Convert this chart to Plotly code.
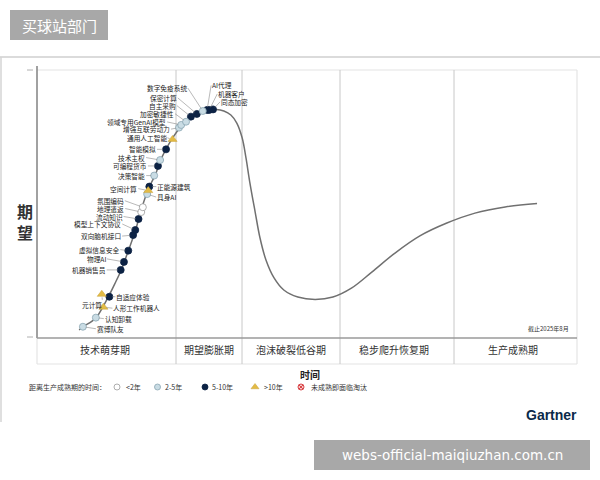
import plotly.graph_objects as go

# ---------------- data ----------------
# hype curve (x: time 0-100, y: expectations 0-100)
curve_x = [7.8, 8.5, 10.9, 12.2, 13.3, 14.4, 15.6, 16.9, 18.2, 19.4, 20.7, 21.9, 22.8, 23.9, 25.0,
           26.3, 27.6, 28.9, 30.2, 31.7, 33.2, 34.6, 35.9, 37.0, 38.0, 38.7, 39.4, 40.4, 41.3, 42.4,
           43.9, 45.7, 48.3, 51.5, 54.8, 58.3, 62.0, 66.3, 70.9, 75.9, 81.1, 86.7, 92.6]
curve_y = [3.0, 4.1, 7.5, 11.6, 15.7, 20.2, 25.4, 32.5, 39.9, 48.5, 56.0, 60.8, 66.0, 70.5, 74.3,
           78.0, 80.6, 82.7, 84.1, 85.1, 85.3, 84.7, 83.2, 80.2, 74.6, 67.2, 58.2, 47.0, 37.3, 29.1,
           22.4, 17.9, 15.3, 14.4, 15.3, 18.7, 24.6, 31.7, 38.1, 42.9, 46.6, 48.9, 50.2]

tech_names = ["赛博队友", "认知卸载", "人形工作机器人", "元计算", "自适应体验", "机器销售员", "物理AI",
              "虚拟信息安全", "双向脑机接口", "模型上下文协议", "流动知识", "地理遣返", "氛围编码",
              "具身AI", "空间计算", "正能源建筑", "决策智能", "可编程货币", "技术主权", "智能模拟",
              "通用人工智能", "增强互联劳动力", "领域专用GenAI模型", "加密敏捷性", "自主采购",
              "保密计算", "数字免疫系统", "AI代理", "机器客户", "同态加密"]
tech_x = [8.5, 10.9, 12.3, 12.0, 13.4, 15.5, 16.1, 16.9, 17.8, 18.2, 18.8, 19.3, 19.6,
          20.4, 20.6, 20.8, 21.7, 22.4, 22.8, 23.9, 25.1, 26.3, 26.7, 27.6, 28.5,
          29.6, 30.7, 31.5, 31.9, 32.6]
tech_y = [4.2, 7.6, 11.5, 16.3, 15.4, 25.4, 28.4, 32.6, 38.4, 40.3, 44.4, 47.0, 48.8,
          53.7, 55.0, 56.5, 60.6, 64.2, 66.4, 70.4, 74.1, 78.5, 79.5, 80.7, 82.6,
          83.6, 84.7, 85.1, 85.1, 85.3]
tech_cat = ["2-5年", "2-5年", ">10年", ">10年", "5-10年", "5-10年", "5-10年",
            "5-10年", "5-10年", "5-10年", "5-10年", "<2年", "<2年",
            "2-5年", ">10年", "5-10年", "2-5年", "5-10年", "2-5年", "5-10年",
            ">10年", "2-5年", "2-5年", "2-5年", "5-10年",
            "5-10年", "2-5年", "5-10年", "5-10年", "5-10年"]

phase_labels = ["技术萌芽期", "期望膨胀期", "泡沫破裂低谷期", "稳步爬升恢复期", "生产成熟期"]
legend_cats = ["<2年", "2-5年", "5-10年", ">10年", "未成熟即面临淘汰"]

# ---------------- styles / layout helpers ----------------
W, H = 600, 480
PX0, PX1, PY0, PY1 = 37, 577, 70, 338   # plot area in pixels
def P(x): return x / W
def Q(y): return 1 - y / H

cat_style = {
    "<2年": dict(symbol="circle", color="#ffffff", line=dict(color="#9a9a9a", width=0.8), size=7),
    "2-5年": dict(symbol="circle", color="#c9dce4", line=dict(color="#8aa6b3", width=0.8), size=7),
    "5-10年": dict(symbol="circle", color="#0c2244", line=dict(color="#0c2244", width=0.8), size=7),
    ">10年": dict(symbol="triangle-up", color="#e3bb45", line=dict(color="#c9a23a", width=0.5), size=8),
    "未成熟即面临淘汰": dict(symbol="circle-x", color="#f6cccc", line=dict(color="#d9464a", width=1), size=7),
}

# label placement: (xanchor, ax px, ay px)
label_place = {
    "赛博队友": ("left", 13, 2), "认知卸载": ("left", 8, 1), "人形工作机器人": ("left", 9, 1),
    "元计算": ("right", 1, 11), "自适应体验": ("left", 6, 0), "机器销售员": ("right", -14, 0),
    "物理AI": ("right", -17, -3), "虚拟信息安全": ("right", -8, -1), "双向脑机接口": ("right", -11, 1),
    "模型上下文协议": ("right", -13, -6), "流动知识": ("right", -15, -2.5), "地理遣返": ("right", -16, -3.5),
    "氛围编码": ("right", -18, -6.5), "具身AI": ("left", 9, 3), "空间计算": ("right", -10, -2),
    "正能源建筑": ("left", 7, 0), "决策智能": ("right", -8, 0), "可编程货币": ("right", -10, 0),
    "技术主权": ("right", -14, -2.5), "智能模拟": ("right", -9, 0), "通用人工智能": ("right", -5, -1.5),
    "增强互联劳动力": ("right", -8, 1.5), "领域专用GenAI模型": ("right", -14, -3),
    "加密敏捷性": ("right", -11, -8), "自主采购": ("right", -14, -11), "保密计算": ("right", -19, -16),
    "数字免疫系统": ("right", -15, -23), "AI代理": ("left", 4, -24.5), "机器客户": ("left", 8, -16),
    "同态加密": ("left", 7, -7.5),
}

CJK = "Noto Sans CJK SC"
LABEL_SIZE = 6.7
fig = go.Figure()

# hype curve
fig.add_trace(go.Scatter(x=curve_x, y=curve_y, mode="lines",
                         line=dict(color="#707070", width=1.5, shape="spline", smoothing=1.0),
                         hoverinfo="skip", showlegend=False))

# technology markers by category
for cat in ["5-10年", "2-5年", "<2年", ">10年"]:
    idx = [i for i, c in enumerate(tech_cat) if c == cat]
    st = cat_style[cat]
    fig.add_trace(go.Scatter(
        x=[tech_x[i] for i in idx], y=[tech_y[i] for i in idx], mode="markers",
        marker=dict(symbol=st["symbol"], color=st["color"], size=st["size"], line=st["line"]),
        text=[tech_names[i] for i in idx], hoverinfo="text", showlegend=False))

annotations = []
for n, x, y in zip(tech_names, tech_x, tech_y):
    xa, ax, ay = label_place[n]
    annotations.append(dict(x=x, y=y, xref="x", yref="y", text=n, showarrow=True,
                            arrowhead=0, arrowwidth=0.6, arrowcolor="#8a8a8a",
                            ax=ax, ay=ay, xanchor=xa, yanchor="middle", standoff=3,
                            borderpad=0, font=dict(family=CJK, size=LABEL_SIZE, color="#222")))

def ptext(x, y, text, size, color="#333", family=CJK, xanchor="center"):
    return dict(x=P(x), y=Q(y), xref="paper", yref="paper", text=text, showarrow=False,
                xanchor=xanchor, yanchor="middle", font=dict(family=family, size=size, color=color))

# legend drawn in pixel overlay axes
leg_px = [117, 157.5, 205, 255, 301]
leg_tx = [124, 163, 210, 262, 309]
LEG_Y = 387
for c, lx in zip(legend_cats, leg_px):
    st = cat_style[c]
    fig.add_trace(go.Scatter(x=[lx], y=[LEG_Y], xaxis="x2", yaxis="y2", mode="markers",
                             marker=dict(symbol=st["symbol"], color=st["color"], size=st["size"] - 1,
                                         line=st["line"]),
                             hoverinfo="skip", showlegend=False))
for c, tx in zip(legend_cats, leg_tx):
    annotations.append(ptext(tx, LEG_Y, c, 7, xanchor="left"))
annotations.append(ptext(27, LEG_Y, "距离生产成熟期的时间：", 7, xanchor="left"))

# phase labels
phase_cx = [105, 209, 291, 394, 513]
for t, cx in zip(phase_labels, phase_cx):
    annotations.append(ptext(cx, 349, t, 10))

# other texts
annotations += [
    ptext(310, 374, "<b>时间</b>", 10, color="#222"),
    ptext(25, 221, "<b>期<br>望</b>", 16),
    ptext(571, 328, "截止2025年8月", 6, xanchor="right"),
    ptext(579, 415, "<b>Gartner</b>", 14, color="#0b2a4a", family="Liberation Sans", xanchor="right"),
    ptext(59, 25, "买球站部门", 15, color="#ffffff"),
    ptext(452, 455, "webs-official-maiqiuzhan.com.cn", 13.5, color="#ffffff", family="DejaVu Sans"),
]

def line(x0, y0, x1, y1, color, width=1):
    return dict(type="line", xref="paper", yref="paper", x0=P(x0), y0=Q(y0), x1=P(x1), y1=Q(y1),
                line=dict(color=color, width=width), layer="below")

shapes = [
    dict(type="rect", xref="paper", yref="paper", x0=P(10), y0=Q(10), x1=P(108), y1=Q(40),
         fillcolor="#a8a8a8", line=dict(width=0), layer="below"),
    dict(type="rect", xref="paper", yref="paper", x0=P(314), y0=Q(440), x1=P(590), y1=Q(470),
         fillcolor="#a8a8a8", line=dict(width=0), layer="below"),
    line(0, 57, 600, 57, "#cfcfcf", 1.5),
    line(1, 57, 1, 422, "#d5d5d5", 1.5),
    line(PX0, PY0, PX1, PY0, "#e4e4e4", 1.2),
    line(PX1, PY0, PX1, 364, "#e4e4e4", 1.2),
    line(PX0, 364, PX1, 364, "#e4e4e4", 1.2),
    line(PX0, 338, PX0, 364, "#e4e4e4", 1.2),
]
for dx in [176, 242, 340, 454]:
    shapes.append(line(dx, PY0, dx, 364, "#c8c8c8", 1))
shapes += [
    line(PX0, 66, PX0, PY1, "#8a8a8a", 1.6),
    line(PX0, PY1, PX1, PY1, "#9a9a9a", 1.3),
    line(27, 70, 33, 70, "#b0b0b0", 1),
    line(27, 337, 33, 337, "#b0b0b0", 1),
]

fig.update_layout(
    width=W, height=H, margin=dict(l=0, r=0, t=0, b=0),
    paper_bgcolor="#ffffff", plot_bgcolor="rgba(0,0,0,0)",
    showlegend=False,
    xaxis=dict(domain=[P(PX0), P(PX1)], range=[0, 100], visible=False, fixedrange=True),
    yaxis=dict(domain=[Q(PY1), Q(PY0)], range=[0, 100], visible=False, fixedrange=True),
    xaxis2=dict(domain=[0, 1], range=[0, W], visible=False, anchor="y2", fixedrange=True),
    yaxis2=dict(domain=[0, 1], range=[H, 0], visible=False, anchor="x2", fixedrange=True),
    shapes=shapes, annotations=annotations,
)

fig.write_html("out.html")
